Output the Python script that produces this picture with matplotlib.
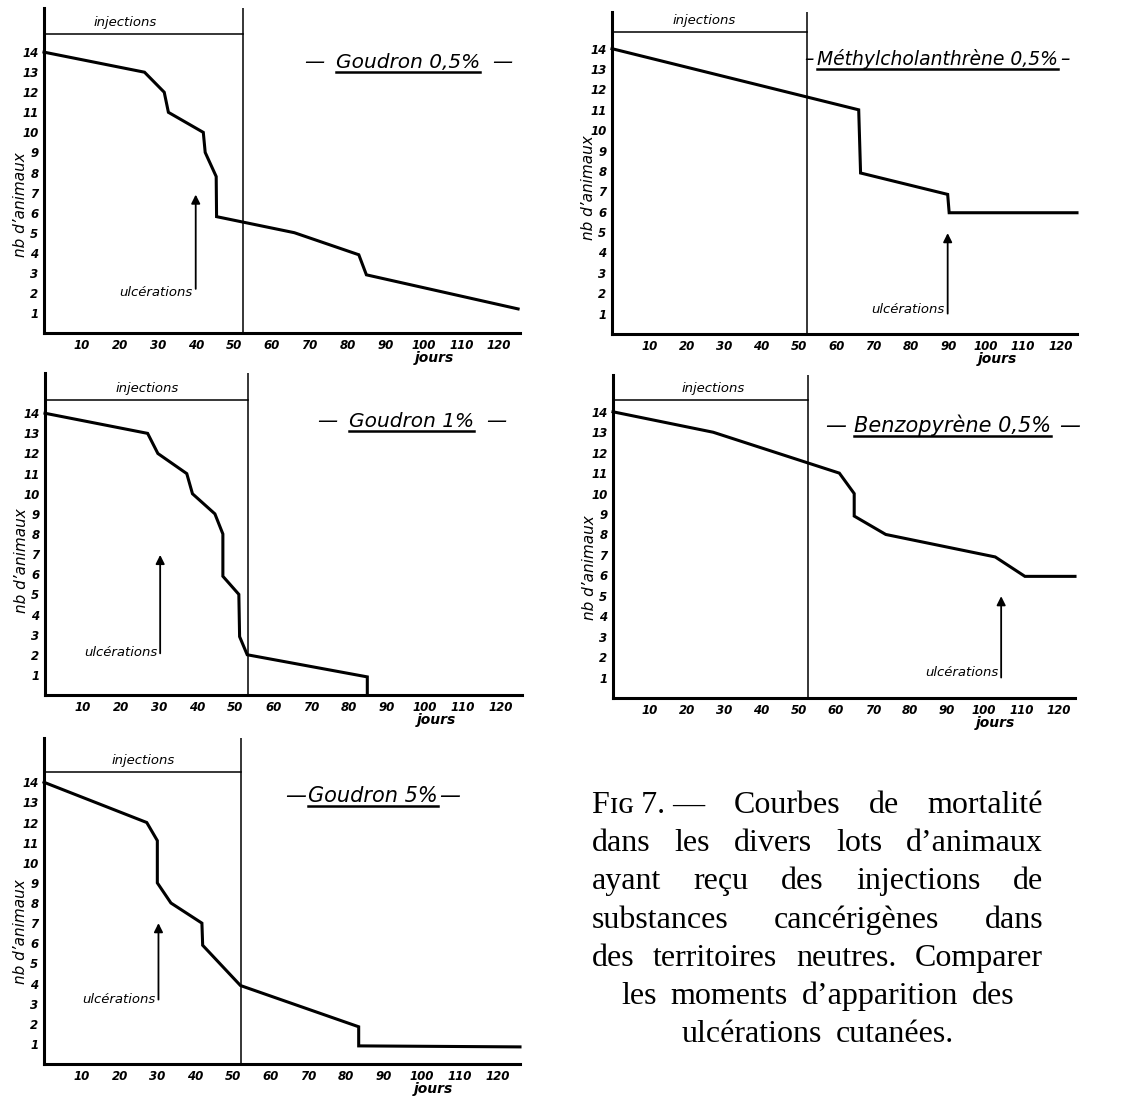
import matplotlib.pyplot as plt
from matplotlib.lines import Line2D

W, H = 1130, 1099

# survivors per lot (days, nb d'animaux)
g05_days = [0, 26.5, 31.7, 32.8, 42, 42.5, 45.4, 45.5, 66, 83, 85, 125]
g05_count = [14, 13, 12, 11, 10, 9, 7.8, 5.8, 5, 3.9, 2.9, 1.2]

mch_days = [0, 66, 66.5, 89.8, 90.2, 124.4]
mch_count = [14, 11, 7.9, 6.85, 5.95, 5.95]

g1_days = [0, 27, 29.7, 37.3, 38.8, 44.7, 46.8, 46.8, 51, 51.2, 53.2, 84.8, 84.8]
g1_count = [14, 13, 12, 11, 10, 9, 8, 5.9, 5, 2.9, 2, 0.9, 0]

bzp_days = [0, 27, 61, 65, 65, 73.5, 103, 111, 124.5]
bzp_count = [14, 13, 11, 10, 8.9, 8, 6.9, 5.95, 5.95]

g5_days = [0, 27.2, 30, 30, 33.6, 41.8, 42, 52, 83.3, 83.3, 126]
g5_count = [14, 12, 11.1, 9, 8, 7, 5.9, 3.9, 1.85, 0.9, 0.85]

titles = ["Goudron 0,5%", "Méthylcholanthrène 0,5%", "Goudron 1%",
          "Benzopyrène 0,5%", "Goudron 5%"]
inj_end = [52.5, 52.1, 53.4, 52.5, 52.1]      # end of injections (jours)
ulc_day = [40, 89.8, 30.3, 104.6, 30.3]       # appearance of ulcerations
ulc_from = [2.2, 1.0, 2.07, 1.0, 3.2]
ulc_to = [6.9, 4.95, 6.96, 4.98, 7.0]

x_ticks = [10, 20, 30, 40, 50, 60, 70, 80, 90, 100, 110, 120]
y_ticks = list(range(1, 15))

caption_words = [
    ["Fɪɢ 7. —", "Courbes", "de", "mortalité"],
    ["dans", "les", "divers", "lots", "d’animaux"],
    ["ayant", "reçu", "des", "injections", "de"],
    ["substances", "cancérigènes", "dans"],
    ["des", "territoires", "neutres.", "Comparer"],
    ["les", "moments", "d’apparition", "des"],
    ["ulcérations", "cutanées."],
]

series = [(g05_days, g05_count), (mch_days, mch_count), (g1_days, g1_count),
          (bzp_days, bzp_count), (g5_days, g5_count)]

# panel boxes in pixels: left, top, right, bottom
boxes = [(44, 8, 520, 333), (612, 12, 1077, 334), (45, 373, 522, 695),
         (613, 375, 1075, 698), (44, 738, 520, 1064)]
xmax = [125.5, 124.4, 125.5, 124.5, 126]
ymax = [16.2, 15.8, 16.0, 15.8, 16.2]
inj_y = [14.9, 14.8, 14.66, 14.57, 14.5]
inj_text_x = [21.5, 24.6, 27, 27, 26.3]
title_pos = [(96, 13.2), (87, 13.2), (96.5, 13.3), (91.4, 13.0), (87, 13.0)]
title_size = [14.5, 13.5, 14.5, 15, 15]
dash = ["—", "–", "—", "—", "—"]
dash_gap = [12, 3, 12, 8, 2]
ulc_label_y = [2.0, 1.2, 2.1, 1.25, 3.2]
ylab_y = [6.4, 7.2, 6.7, 6.4, 6.6]

hand = dict(family="DejaVu Sans", style="italic")

fig = plt.figure(figsize=(W / 100, H / 100), dpi=100)
fig.patch.set_facecolor("white")

title_texts = []
for i, (days, count) in enumerate(series):
    l, t, r, b = boxes[i]
    ax = fig.add_axes([l / W, 1 - b / H, (r - l) / W, (b - t) / H])
    ax.set_xlim(0, xmax[i])
    ax.set_ylim(0, ymax[i])
    ax.patch.set_alpha(0)
    for s in ["top", "right"]:
        ax.spines[s].set_visible(False)
    for s in ["left", "bottom"]:
        ax.spines[s].set_linewidth(2.2)

    ax.set_xticks(x_ticks)
    ax.set_yticks(y_ticks)
    ax.set_xticklabels([str(v) for v in x_ticks], fontsize=8.5,
                       fontweight="bold", **hand)
    ax.set_yticklabels([str(v) for v in y_ticks], fontsize=8.5,
                       fontweight="bold", **hand)
    ax.tick_params(length=0, pad=4)

    ax.plot(days, count, color="black", lw=2.2, solid_joinstyle="miter",
            clip_on=False)

    ax.axvline(inj_end[i], color="black", lw=1.1)
    ax.plot([0, inj_end[i]], [inj_y[i], inj_y[i]], color="black", lw=1.1)
    ax.text(inj_text_x[i], inj_y[i] + 0.25, "injections", ha="center",
            va="bottom", fontsize=9.5, **hand)

    ax.annotate("", xy=(ulc_day[i], ulc_to[i]), xytext=(ulc_day[i], ulc_from[i]),
                arrowprops=dict(arrowstyle="-|>", color="black", lw=1.3,
                                mutation_scale=13, shrinkA=0, shrinkB=0))
    ax.text(ulc_day[i] - 0.8, ulc_label_y[i], "ulcérations", ha="right",
            va="center", fontsize=9.5, **hand)

    ax.annotate("jours", xy=(103, 0), xytext=(0, -25),
                textcoords="offset pixels", ha="center", va="center",
                fontsize=10, fontweight="bold", **hand)
    ax.text(-0.05, ylab_y[i], "nb d’animaux", rotation=90, ha="center",
            va="center", fontsize=11,
            transform=ax.get_yaxis_transform(), **hand)

    tx, ty = title_pos[i]
    tt = ax.text(tx, ty, titles[i], ha="center", va="baseline",
                 fontsize=title_size[i], **hand)
    title_texts.append((ax, tt, i))

fig.canvas.draw()
rend = fig.canvas.get_renderer()

# underline the titles and put the dashes on both sides
for ax, tt, i in title_texts:
    bb = tt.get_window_extent(rend)
    base = ax.transData.transform(title_pos[i])[1]
    yu = base - 4
    fig.add_artist(Line2D([bb.x0 / W, bb.x1 / W], [yu / H, yu / H],
                          color="black", lw=1.8))
    fig.text((bb.x0 - dash_gap[i]) / W, base / H, dash[i], ha="right",
             va="baseline", fontsize=title_size[i], **hand)
    fig.text((bb.x1 + dash_gap[i]) / W, base / H, dash[i], ha="left",
             va="baseline", fontsize=title_size[i], **hand)

# caption, justified like the printed page
cap_font = dict(family=["Liberation Serif", "DejaVu Serif"], fontsize=23)
left_px, right_px, centre_px = 592, 1043, 818
for k, words in enumerate(caption_words):
    base = 813 + k * 38.2
    items = [fig.text(0, 1 - base / H, w, ha="left", va="baseline", **cap_font)
             for w in words]
    widths = [it.get_window_extent(rend).width for it in items]
    if k < 5:
        gap = (right_px - left_px - sum(widths)) / (len(words) - 1)
        x = left_px
    else:
        gap = 14
        x = centre_px - (sum(widths) + gap * (len(words) - 1)) / 2
    for it, w in zip(items, widths):
        it.set_x(x / W)
        x += w + gap

fig.savefig("out.png", dpi=100, facecolor="white")
